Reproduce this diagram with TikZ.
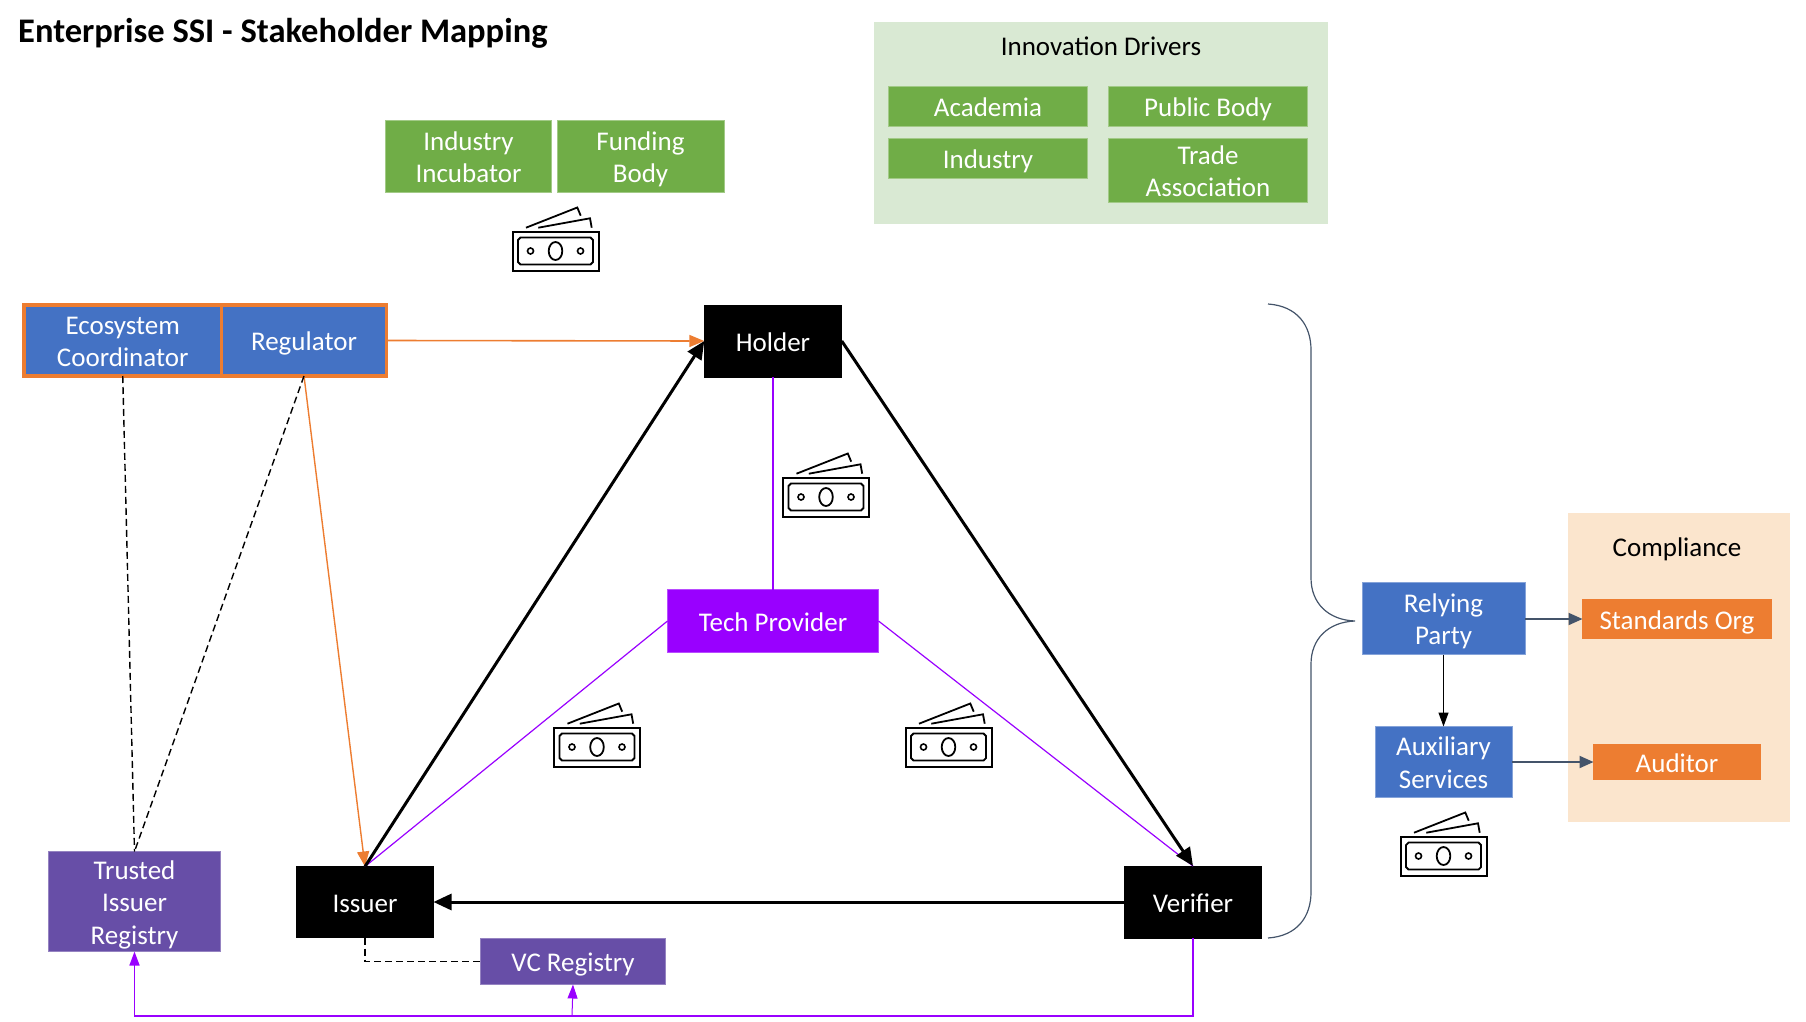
\documentclass[tikz,border=0pt]{standalone}
\usepackage{fontspec}
\setmainfont{Carlito}
\usetikzlibrary{arrows.meta}
\definecolor{cgreen}{HTML}{70AD47}
\definecolor{cgreenl}{HTML}{D9E9D3}
\definecolor{cblue}{HTML}{4472C4}
\definecolor{corange}{HTML}{ED7D31}
\definecolor{cpeach}{HTML}{FBE5CD}
\definecolor{cviolet}{HTML}{9900FF}
\definecolor{cindigo}{HTML}{674EA7}
\definecolor{cslate}{HTML}{44546A}
\newcommand{\lns}{\rule[-6pt]{0pt}{32pt}}
\tikzset{
  x=1pt,y=-1pt,
  basebox/.style={inner sep=0pt,outer sep=0pt,align=center,font=\fontsize{27}{32.5}\selectfont,text=white,line width=0.7pt},
  greenbox/.style={basebox,fill=cgreen,draw=cgreen!65!white},
  bluebox/.style={basebox,fill=cblue,draw=cblue!65!white},
  regbox/.style={basebox,fill=cblue,draw=corange,line width=3.5pt},
  blackbox/.style={basebox,fill=black,draw=black},
  vbox/.style={basebox,fill=cviolet,draw=cviolet!70!white},
  ibox/.style={basebox,fill=cindigo,draw=cindigo!70!white},
  obox/.style={basebox,fill=corange,draw=corange},
  panelbox/.style={inner sep=0pt,outer sep=0pt},
  paneltext/.style={anchor=base,inner sep=0pt,font=\fontsize{27}{32}\selectfont,text=black},
  bigarrow/.style={line width=3pt,-{Triangle[length=18pt,width=16pt]}},
  orangearrow/.style={corange,line width=1.6pt,-{Triangle[length=15pt,width=12pt]}},
  dashline/.style={black,line width=1.4pt,dash pattern=on 7pt off 4pt},
  vline/.style={cviolet,line width=1.2pt},
  varrow/.style={cviolet,-{Triangle[length=14pt,width=10pt]}},
  slatearrow/.style={cslate,line width=2pt,-{Triangle[length=14pt,width=12pt]}},
  money/.pic={
    \draw[line width=2pt,black] (-43,-19.5) rectangle (43,19.5);
    \draw[line width=1.8pt,black] (-35,-13.5) -- (35,-13.5) -- (37.5,-11) -- (37.5,11) -- (35,13.5) -- (-35,13.5) -- (-37.5,11) -- (-37.5,-11) -- cycle;
    \draw[line width=1.8pt,black] (0,0) ellipse (6.8 and 9);
    \draw[line width=1.6pt,black] (-25,0) circle (3);
    \draw[line width=1.6pt,black] (25,0) circle (3);
    \draw[line width=1.8pt,black] (-29.5,-23.3) -- (21.8,-43.5) -- (25.2,-35.3);
    \draw[line width=1.8pt,black] (-17.2,-23.3) -- (34.5,-32.7) -- (36.2,-23.3);
  }
}
\begin{document}
\begin{tikzpicture}
\useasboundingbox (0,0) rectangle (1806,1022);
% panels
\node[panelbox,fill=cgreenl,minimum width=454pt,minimum height=202pt] (innov) at (1101,123) {};
\node[panelbox,fill=cpeach,minimum width=222pt,minimum height=309pt] (comp) at (1679,667.5) {};
\node[anchor=base west,inner sep=0pt,font=\fontsize{34.5}{40}\bfseries\selectfont] (title) at (18,43) {Enterprise SSI - Stakeholder Mapping};
\node[paneltext] (innovt) at (1101,56) {Innovation Drivers};
\node[paneltext] (compt) at (1677,556.5) {Compliance};
% green
\node[greenbox,minimum width=166pt,minimum height=72pt] (incub) at (468.5,156.5) {Industry\lns\\Incubator\lns};
\node[greenbox,minimum width=167pt,minimum height=72pt] (fund) at (640.5,156.5) {Funding\lns\\Body\lns};
\node[greenbox,minimum width=199pt,minimum height=40pt] (acad) at (988,106.5) {Academia\lns};
\node[greenbox,minimum width=199pt,minimum height=40pt] (pub) at (1208,106.5) {Public Body\lns};
\node[greenbox,minimum width=199pt,minimum height=40pt] (ind) at (988,158.5) {Industry\lns};
\node[greenbox,minimum width=199pt,minimum height=62pt] (trade) at (1208,170.5) {Trade\lns\\Association\lns};
% governance
\node[regbox,minimum width=197.5pt,minimum height=71pt] (eco) at (122.75,340.5) {Ecosystem\lns\\Coordinator\lns};
\node[regbox,minimum width=165pt,minimum height=71pt] (reg) at (304,340.5) {Regulator\lns};
% triangle
\node[blackbox,minimum width=137.5pt,minimum height=72pt] (holder) at (773,341) {Holder\lns};
\node[blackbox,minimum width=137pt,minimum height=71pt] (issuer) at (365,902) {Issuer\lns};
\node[blackbox,minimum width=137pt,minimum height=72pt] (verifier) at (1193,902) {Verifier\lns};
\node[vbox,minimum width=211pt,minimum height=63pt] (tech) at (773,621) {Tech Provider\lns};
\node[ibox,minimum width=172pt,minimum height=100pt] (trusted) at (134.5,901.5) {Trusted\lns\\Issuer\lns\\Registry\lns};
\node[ibox,minimum width=185pt,minimum height=46pt] (vcreg) at (573,961.5) {VC Registry\lns};
% right
\node[bluebox,minimum width=163pt,minimum height=72pt] (rely) at (1443.5,618.5) {Relying\lns\\Party\lns};
\node[bluebox,minimum width=137pt,minimum height=71pt] (aux) at (1443.5,762) {Auxiliary\lns\\Services\lns};
\node[obox,minimum width=189pt,minimum height=39pt] (std) at (1677,619) {Standards Org\lns};
\node[obox,minimum width=167pt,minimum height=35pt] (audit) at (1677,762) {Auditor\lns};
% connectors
\draw[orangearrow] (reg.east) -- (holder.west);
\draw[orangearrow,line width=1.4pt] (reg.south) -- (issuer.north);
\draw[dashline] (eco.south) -- (trusted.north);
\draw[dashline] (reg.south) -- (trusted.north);
\draw[vline] (holder.south) -- (tech.north);
\draw[vline] (tech.west) -- (issuer.north);
\draw[vline] (tech.east) -- (verifier.north);
\draw[bigarrow] (issuer.north) -- (holder.west);
\draw[bigarrow] (holder.east) -- (verifier.north);
\draw[bigarrow] (verifier.west) -- (issuer.east);
\draw[dashline,line width=1.8pt] (issuer.south) |- (vcreg.west);
\draw[varrow,line width=1.6pt] (verifier.south) |- (572,1016) -| (trusted.south);
\draw[varrow,line width=1pt] (572,1016) -- (vcreg.south);
\draw[slatearrow] (rely.east |- std.west) -- (std.west);
\draw[slatearrow] (aux.east) -- (audit.west);
\draw[black,line width=1.2pt,-{Triangle[length=14pt,width=10pt]}] (rely.south) -- (aux.north);
% brace
\coordinate (bs) at (1268,304);
\coordinate (bt) at (1355,621);
\coordinate (be) at (1268,938);
\draw[cslate,line width=1.2pt] (bs) .. controls (1297,306) and (1311,325) .. (1311,350) -- (1311,578) .. controls (1311,603) and (1328,620) .. (bt) .. controls (1328,622) and (1311,639) .. (1311,664) -- (1311,892) .. controls (1311,917) and (1297,936) .. (be);
% money
\pic at (555.5,251) {money};
\pic at (826,497) {money};
\pic at (597,747) {money};
\pic at (948.5,747) {money};
\pic at (1443.5,856) {money};
\end{tikzpicture}
\end{document}
